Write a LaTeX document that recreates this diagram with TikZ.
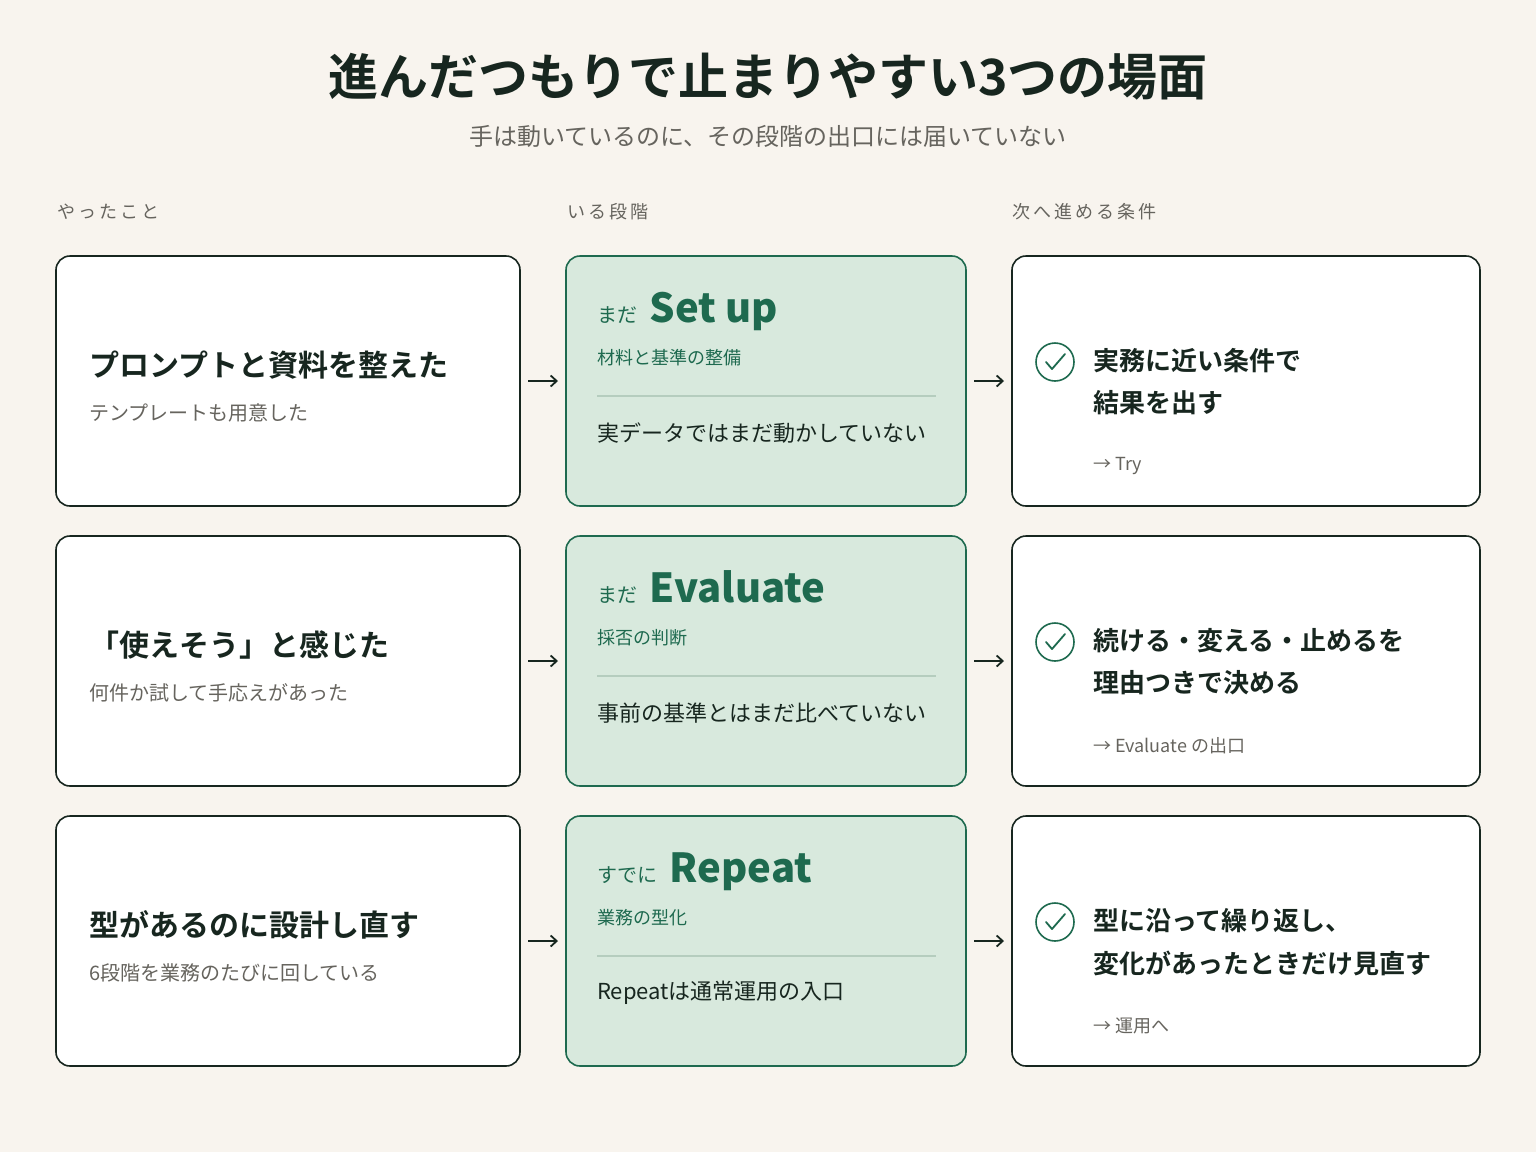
\documentclass[tikz,border=0pt]{standalone}
\usepackage{fontspec}
\setmainfont{Noto Sans CJK JP}
\newfontfamily\jpb{Noto Sans CJK JP Bold}
\usetikzlibrary{arrows.meta}
\definecolor{bg}{HTML}{F8F4EE}
\definecolor{ink}{HTML}{17261F}
\definecolor{grn}{HTML}{1E6A4F}
\definecolor{lgrn}{HTML}{D8E9DD}
\definecolor{gry}{HTML}{66645E}
\definecolor{sep}{HTML}{B5CDBE}
\tikzset{
 box/.style={draw=ink,line width=1.6pt,rounded corners=14pt},
 gbox/.style={draw=grn,fill=lgrn,line width=1.6pt,rounded corners=14pt},
 txt/.style={anchor=west,inner sep=0pt},
 arr/.style={-{Straight Barb[length=6pt,width=11pt]},line width=1.8pt,draw=ink},
}
\newcommand{\fs}[1]{\fontsize{#1}{#1}\selectfont}
\begin{document}
\begin{tikzpicture}[x=1pt,y=-1pt]
\fill[bg] (0,0) rectangle (1536,1152);
\useasboundingbox (0,0) rectangle (1536,1152);
\node[inner sep=0pt,text=ink] (title) at (768,77) {\jpb\fs{50}進んだつもりで止まりやすい3つの場面};
\node[inner sep=0pt,text=gry] (sub) at (768,136) {\fs{24}手は動いているのに、その段階の出口には届いていない};
\node[txt,text=gry] (h1) at (57,212) {\fs{18}や\,っ\,た\,こ\,と};
\node[txt,text=gry] (h2) at (567,212) {\fs{18}い\,る\,段\,階};
\node[txt,text=gry] (h3) at (1012,212) {\fs{18}次\,へ\,進\,め\,る\,条\,件};
\foreach \i/\a/\b/\pre/\stage/\sdesc/\note/\ca/\cb/\exit in {
 0/プロンプトと資料を整えた/テンプレートも用意した/まだ/Set up/材料と基準の整備/実データではまだ動かしていない/実務に近い条件で/結果を出す/→ Try,
 1/「使えそう」と感じた/何件か試して手応えがあった/まだ/Evaluate/採否の判断/事前の基準とはまだ比べていない/続ける・変える・止めるを/理由つきで決める/→ Evaluate の出口,
 2/型があるのに設計し直す/6段階を業務のたびに回している/すでに/Repeat/業務の型化/Repeatは通常運用の入口/型に沿って繰り返し、/変化があったときだけ見直す/→ 運用へ}{
 \pgfmathsetmacro{\o}{280*\i}
 \begin{scope}[yshift=-\o pt]
 \draw[box,fill=white] (56,256) rectangle (520,506);
 \draw[gbox] (566,256) rectangle (966,506);
 \draw[box,fill=white] (1012,256) rectangle (1480,506);
 \node[txt,text=ink] (m\i) at (89,365) {\jpb\fs{30}\a};
 \node[txt,text=gry] (s\i) at (89,413) {\fs{20}\b};
 \node[txt,text=grn,anchor=base west] (p\i) at (597,322) {\fs{20}\pre};
 \node[txt,text=grn,anchor=base west] (st\i) at ([xshift=12pt]p\i.base east) {\bfseries\sffamily\jpb\fs{40}\stage};
 \node[txt,text=grn] (sd\i) at (597,358) {\fs{18}\sdesc};
 \coordinate (l1\i) at (597,396); \coordinate (l2\i) at (936,396);
 \draw[sep,line width=1.5pt] (l1\i) -- (l2\i);
 \node[txt,text=ink] (n\i) at (597,433) {\fs{22}\note};
 \node[draw=grn,circle,line width=1.6pt,minimum size=38pt,inner sep=0pt] (ck\i) at (1055,362) {};
 \draw[grn,line width=1.8pt,line cap=round,line join=round] ([shift={(-9,0)}]ck\i.center) -- ([shift={(-3,7)}]ck\i.center) -- ([shift={(10,-8)}]ck\i.center);
 \node[txt,text=ink] (c\i) at (1093,361) {\jpb\fs{26}\ca};
 \node[txt,text=ink] (d\i) at (1093,403) {\jpb\fs{26}\cb};
 \node[txt,text=gry] (e\i) at (1093,466) {\fs{18}\exit};
 \coordinate (a1\i) at (528,381); \coordinate (a2\i) at (558,381);
 \coordinate (b1\i) at (974,381); \coordinate (b2\i) at (1004,381);
 \draw[arr] (a1\i) -- (a2\i);
 \draw[arr] (b1\i) -- (b2\i);
 \end{scope}
}
\end{tikzpicture}
\end{document}
